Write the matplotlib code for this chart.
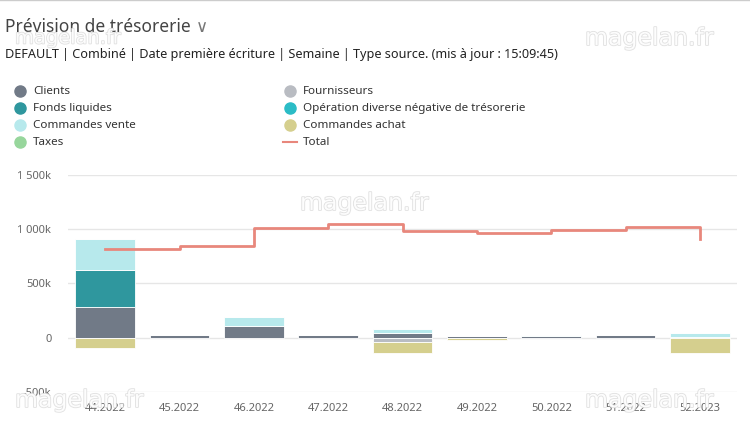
import matplotlib
matplotlib.use("Agg")
import matplotlib.pyplot as plt
import matplotlib.patheffects as pe
from matplotlib.lines import Line2D
import numpy as np

plt.rcParams['font.family'] = ['Noto Sans', 'DejaVu Sans']

# semaines
weeks = ["44.2022", "45.2022", "46.2022", "47.2022", "48.2022",
         "49.2022", "50.2022", "51.2022", "52.2023"]

# valeurs en k
clients = [287, 25, 106, 22, 40, 12, 12, 22, 10]
fournisseurs = [0, 0, 0, 0, -35, 0, 0, 0, 0]
fonds_liquides = [336, 0, 0, 0, 0, 0, 0, 0, 0]
operation_diverse = [0, 0, 0, 0, 0, 0, 0, 0, 0]
commandes_vente = [286, 0, 84, 0, 45, 0, 15, 0, 30]
commandes_achat = [-96, 0, 0, 0, -105, -22, 0, 0, -145]
taxes = [0, 0, 0, 0, 0, 0, 0, 0, 0]
total = [822, 844, 1016, 1049, 988, 969, 997, 1021, 909]

series = [
    ("Clients", clients, "#717a87"),
    ("Fournisseurs", fournisseurs, "#b9bcc2"),
    ("Fonds liquides", fonds_liquides, "#2f979e"),
    ("Opération diverse négative de trésorerie", operation_diverse, "#2bbcc6"),
    ("Commandes vente", commandes_vente, "#b7e9ec"),
    ("Commandes achat", commandes_achat, "#d5cf8e"),
    ("Taxes", taxes, "#97d69c"),
]
total_color = "#e8877c"

fig = plt.figure(figsize=(7.5, 4.23), dpi=100)
ax = fig.add_axes([0.0907, 0.0733, 0.892, 0.513])

x = np.arange(len(weeks))
pos_bottom = np.zeros(len(weeks))
neg_bottom = np.zeros(len(weeks))
for name, vals, color in series:
    v = np.array(vals, dtype=float)
    bottom = np.where(v >= 0, pos_bottom, neg_bottom)
    ax.bar(x, v, 0.8, bottom=bottom, color=color, edgecolor="white", linewidth=0.6, zorder=2)
    pos_bottom += np.where(v > 0, v, 0)
    neg_bottom += np.where(v < 0, v, 0)

ax.plot(x, total, drawstyle="steps-post", color=total_color, linewidth=2, zorder=3)

ax.set_xlim(-0.5, len(weeks) - 0.5)
ax.set_ylim(-500, 1500)
ax.set_yticks([-500, 0, 500, 1000, 1500])
ax.set_yticklabels(["-500k", "0", "500k", "1 000k", "1 500k"])
ax.set_xticks(x)
ax.set_xticklabels(weeks)
ax.grid(axis="y", color="#e6e6e6", linewidth=1, zorder=0)
for s in ax.spines.values():
    s.set_visible(False)
ax.tick_params(length=0, labelsize=8, labelcolor="#666666")
ax.tick_params(axis="y", pad=12)
ax.tick_params(axis="x", pad=8)

# titre
fig.text(0.007, 0.935, "Prévision de trésorerie", fontsize=12.5, color="#444444", va="center")
fig.text(0.261, 0.935, "\u2228", fontsize=12, color="#777777", va="center", family="DejaVu Sans")
fig.text(0.007, 0.870, "DEFAULT | Combiné | Date première écriture | Semaine | Type source. (mis à jour : 15:09:45)",
         fontsize=9.1, color="#222222", va="center")

# légende
col1 = ["Clients", "Fonds liquides", "Commandes vente", "Taxes"]
col2 = ["Fournisseurs", "Opération diverse négative de trésorerie", "Commandes achat", "Total"]
colors = {name: c for name, _, c in series}
for col, xm in ((col1, 20), (col2, 290)):
    for i, name in enumerate(col):
        yp = 1 - (91 + 17 * i) / 423
        if name == "Total":
            fig.add_artist(Line2D([(xm - 7) / 750, (xm + 7) / 750], [yp, yp], color=total_color, linewidth=1.5))
        else:
            fig.add_artist(Line2D([xm / 750], [yp], marker="o", markersize=8, color=colors[name], linestyle="none"))
        fig.text((xm + 13) / 750, yp, name, fontsize=8.4, color="#333333", va="center")

# filigranes
wm = [(15, 38, 14), (585, 38, 17), (300, 203, 17), (15, 400, 17), (585, 400, 17)]
for xw, yw, fs in wm:
    fig.text(xw / 750, 1 - yw / 423, "magelan.fr", fontsize=fs, color="white", va="center",
             family="DejaVu Sans", alpha=0.9,
             path_effects=[pe.withStroke(linewidth=1.2, foreground="#dddddd")], zorder=10)

fig.add_artist(Line2D([0, 1], [0.999, 0.999], color="#cccccc", linewidth=1))

fig.savefig("out.png", dpi=100)
